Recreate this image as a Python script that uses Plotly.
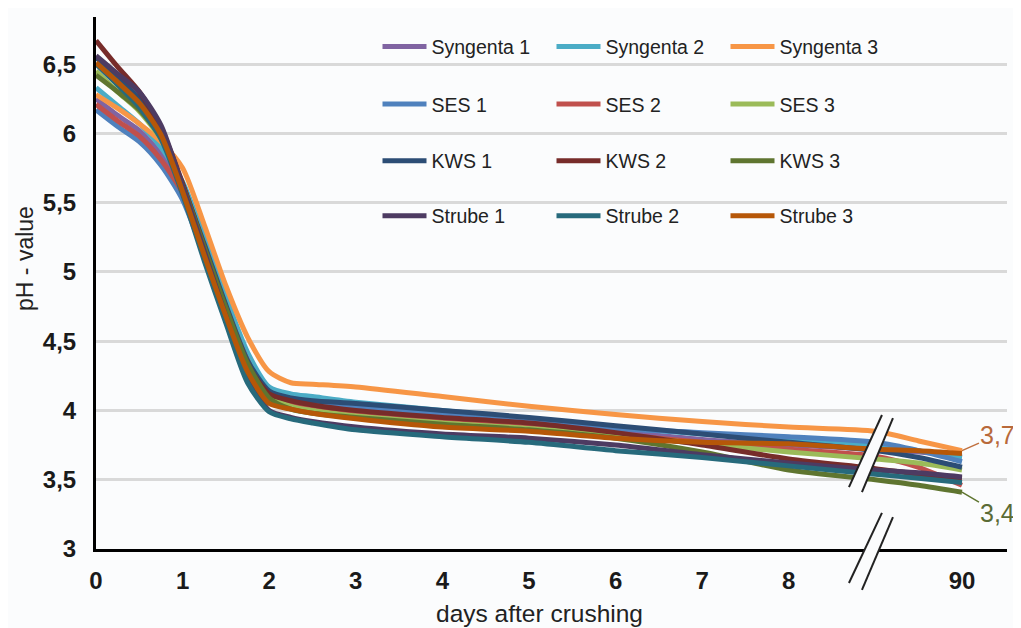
import plotly.graph_objects as go

# ---------------- data ----------------
days = [0, 0.25, 0.5, 0.75, 1, 1.25, 1.5, 1.75, 2, 2.25, 2.5, 3, 4, 5, 6, 7, 8, 9, 9.5, 10]
x_tick_vals = [0, 1, 2, 3, 4, 5, 6, 7, 8, 10]
x_tick_text = ["0", "1", "2", "3", "4", "5", "6", "7", "8", "90"]
y_tick_vals = [3, 3.5, 4, 4.5, 5, 5.5, 6, 6.5]
y_tick_text = ["3", "3,5", "4", "4,5", "5", "5,5", "6", "6,5"]

names = ["Syngenta 1", "Syngenta 2", "Syngenta 3",
         "SES 1", "SES 2", "SES 3",
         "KWS 1", "KWS 2", "KWS 3",
         "Strube 1", "Strube 2", "Strube 3"]

syngenta_1 = [6.25, 6.13, 6.02, 5.85, 5.62, 5.24, 4.80, 4.40, 4.15, 4.08, 4.05, 4.00, 3.95, 3.90, 3.85, 3.79, 3.75, 3.72, 3.70, 3.67]
syngenta_2 = [6.33, 6.20, 6.07, 5.90, 5.65, 5.25, 4.82, 4.42, 4.17, 4.12, 4.10, 4.06, 4.00, 3.94, 3.88, 3.83, 3.79, 3.75, 3.71, 3.66]
syngenta_3 = [6.28, 6.18, 6.07, 5.94, 5.75, 5.34, 4.90, 4.53, 4.28, 4.20, 4.19, 4.17, 4.10, 4.03, 3.97, 3.92, 3.88, 3.85, 3.78, 3.71]
ses_1 = [6.17, 6.05, 5.94, 5.77, 5.52, 5.12, 4.70, 4.32, 4.10, 4.08, 4.06, 4.03, 3.97, 3.92, 3.87, 3.84, 3.81, 3.77, 3.71, 3.63]
ses_2 = [6.21, 6.09, 5.98, 5.81, 5.57, 5.18, 4.75, 4.36, 4.11, 4.05, 4.02, 3.98, 3.93, 3.88, 3.83, 3.77, 3.72, 3.67, 3.59, 3.46]
ses_3 = [6.45, 6.30, 6.16, 5.96, 5.62, 5.18, 4.75, 4.35, 4.10, 4.03, 4.00, 3.96, 3.91, 3.87, 3.82, 3.76, 3.70, 3.65, 3.62, 3.57]
kws_1 = [6.55, 6.40, 6.25, 6.02, 5.63, 5.20, 4.76, 4.36, 4.14, 4.09, 4.07, 4.05, 4.00, 3.95, 3.89, 3.83, 3.77, 3.71, 3.66, 3.59]
kws_2 = [6.67, 6.48, 6.30, 6.04, 5.64, 5.18, 4.72, 4.33, 4.12, 4.07, 4.04, 4.00, 3.95, 3.91, 3.84, 3.75, 3.65, 3.58, 3.54, 3.51]
kws_3 = [6.42, 6.30, 6.17, 5.97, 5.62, 5.18, 4.74, 4.34, 4.09, 4.01, 3.98, 3.95, 3.90, 3.86, 3.80, 3.70, 3.57, 3.50, 3.46, 3.41]
strube_1 = [6.56, 6.43, 6.30, 6.06, 5.62, 5.15, 4.68, 4.25, 4.00, 3.95, 3.92, 3.88, 3.83, 3.80, 3.75, 3.68, 3.62, 3.57, 3.55, 3.52]
strube_2 = [6.50, 6.35, 6.19, 5.96, 5.56, 5.08, 4.63, 4.20, 3.99, 3.94, 3.91, 3.86, 3.81, 3.77, 3.71, 3.66, 3.60, 3.54, 3.51, 3.48]
strube_3 = [6.51, 6.37, 6.22, 5.99, 5.58, 5.12, 4.68, 4.28, 4.05, 4.01, 3.98, 3.94, 3.88, 3.85, 3.80, 3.77, 3.76, 3.72, 3.71, 3.69]

series = [syngenta_1, syngenta_2, syngenta_3, ses_1, ses_2, ses_3,
          kws_1, kws_2, kws_3, strube_1, strube_2, strube_3]

colors = ["#8064A2", "#4BACC6", "#F79646",
          "#4F81BD", "#C0504D", "#9BBB59",
          "#2C4D75", "#772C2A", "#5F7530",
          "#4D3B62", "#276A7C", "#B65708"]

FONT = "Liberation Sans, Arial, sans-serif"
BG = "#fbfcfd"

fig = go.Figure()
for i, (nm, vals, col) in enumerate(zip(names, series, colors)):
    row = i // 3
    fig.add_trace(go.Scatter(
        x=days, y=vals, name=nm, mode="lines",
        line=dict(color=col, width=5, shape="spline", smoothing=0.7),
        legend="legend" if row == 0 else f"legend{row + 1}",
    ))

# legends: one per row, 3 entries each
row_y = [0.944, 0.836, 0.729, 0.626]
leg_common = dict(orientation="h", x=0.309, xanchor="left", yanchor="middle",
                  bgcolor="rgba(0,0,0,0)", entrywidth=115, entrywidthmode="pixels",
                  itemwidth=44, font=dict(family=FONT, size=19.5, color="#222222"))
layout_leg = {}
for r, yv in enumerate(row_y):
    key = "legend" if r == 0 else f"legend{r + 1}"
    layout_leg[key] = dict(y=yv, **leg_common)

# axis break marks (decoration)
def brk_path(x1, y1, x2, y2, x3, y3, x4, y4):
    return f"M{x1},{y1} L{x2},{y2} L{x3},{y3} L{x4},{y4} Z"

shapes = [
    dict(type="path", xref="x", yref="y", layer="above",
         path=brk_path(8.695, 3.447, 9.076, 3.967, 9.203, 3.945, 8.845, 3.411),
         fillcolor=BG, line=dict(width=0)),
    dict(type="line", xref="x", yref="y", layer="above", x0=8.695, y0=3.447, x1=9.076, y1=3.967,
         line=dict(color="#222222", width=2)),
    dict(type="line", xref="x", yref="y", layer="above", x0=8.845, y0=3.411, x1=9.203, y1=3.945,
         line=dict(color="#222222", width=2)),
    dict(type="path", xref="x", yref="paper", layer="above",
         path=brk_path(8.695, -0.064, 9.076, 0.068, 9.203, 0.060, 8.845, -0.077),
         fillcolor=BG, line=dict(width=0)),
    dict(type="line", xref="x", yref="paper", layer="above", x0=8.695, y0=-0.064, x1=9.076, y1=0.068,
         line=dict(color="#222222", width=2)),
    dict(type="line", xref="x", yref="paper", layer="above", x0=8.845, y0=-0.077, x1=9.203, y1=0.060,
         line=dict(color="#222222", width=2)),
]

annotations = [
    dict(x=days[-1], y=syngenta_3[-1], xref="x", yref="y", text="3,7",
         showarrow=True, arrowhead=0, arrowwidth=1.5, arrowcolor="#C0703F",
         ax=36, ay=-16, font=dict(family=FONT, size=25, color="#B8693A")),
    dict(x=days[-1], y=kws_3[-1], xref="x", yref="y", text="3,4",
         showarrow=True, arrowhead=0, arrowwidth=1.5, arrowcolor="#5F7530",
         ax=36, ay=21, font=dict(family=FONT, size=25, color="#5A6B35")),
    dict(x=0.487, y=-0.092, xref="paper", yref="paper", text="days after crushing",
         showarrow=False, xanchor="center", yanchor="top",
         font=dict(family=FONT, size=24.5, color="#222222")),
    dict(x=-0.078, y=0.547, xref="paper", yref="paper", text="pH - value",
         showarrow=False, xanchor="center", yanchor="middle", textangle=-90,
         font=dict(family=FONT, size=23, color="#222222")),
]

# the page body adds an 8px margin, so the figure is 8px smaller
fig.update_layout(
    width=1013, height=620,
    margin=dict(l=88, r=14, t=9, b=79),
    paper_bgcolor=BG, plot_bgcolor=BG,
    font=dict(family=FONT, color="#1a1a1a"),
    showlegend=True,
    shapes=shapes,
    annotations=annotations,
    **layout_leg,
)

fig.update_xaxes(
    range=[0, 10.52], tickvals=x_tick_vals, ticktext=x_tick_text,
    showgrid=False, zeroline=False, showline=True, linecolor="#000000", linewidth=3,
    ticks="", ticklabelstandoff=8,
    tickfont=dict(family=FONT, size=24, color="#1a1a1a", weight="bold"),
)
fig.update_yaxes(
    range=[3, 6.84], tickvals=y_tick_vals, ticktext=y_tick_text,
    showgrid=True, gridcolor="#d9d9d9", gridwidth=2.5, zeroline=False,
    showline=True, linecolor="#000000", linewidth=3,
    ticks="", ticklabelstandoff=12,
    tickfont=dict(family=FONT, size=24, color="#1a1a1a", weight="bold"),
)

fig.write_html("out.html")
